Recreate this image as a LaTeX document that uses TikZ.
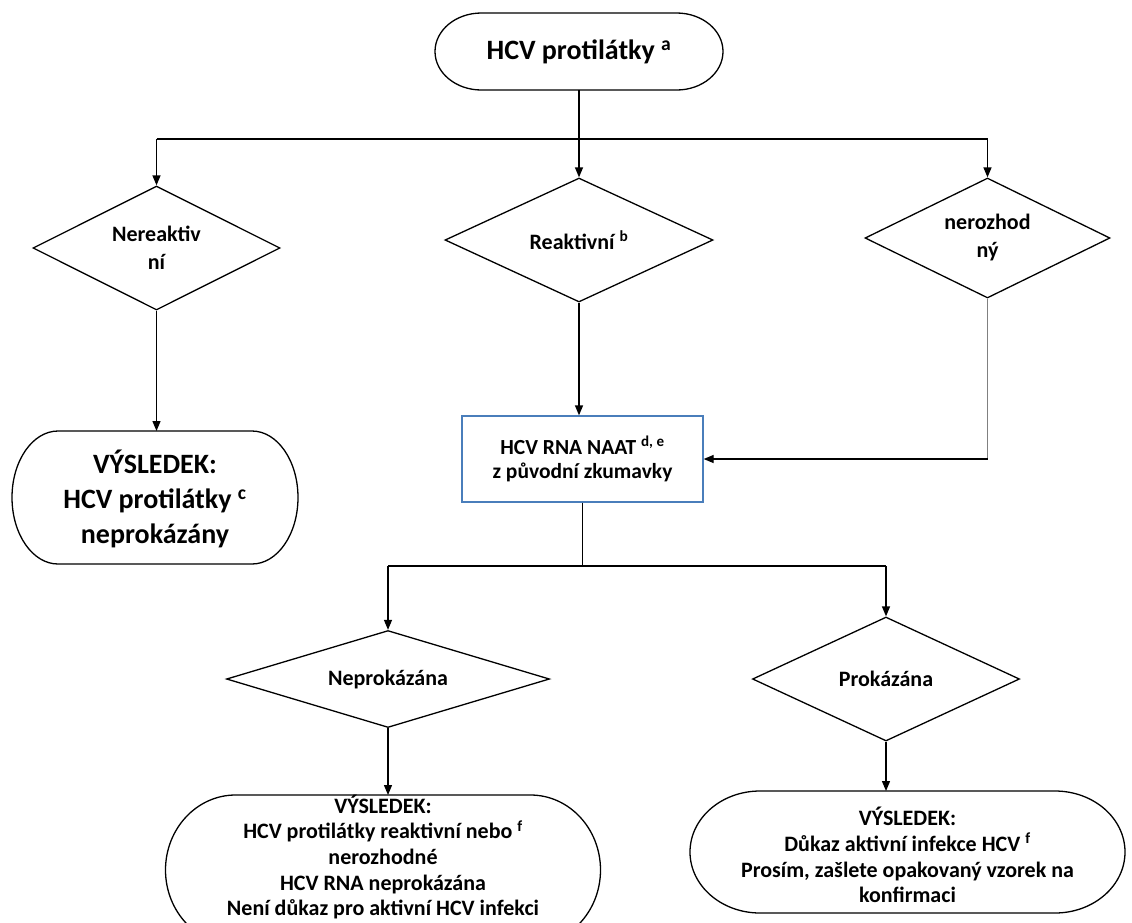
\documentclass[tikz,border=0pt]{standalone}
\usepackage{fontspec}
\setmainfont{Carlito}
\usepackage{tikz}
\usetikzlibrary{arrows.meta,positioning,calc,shapes.geometric}
\definecolor{boxBlue}{HTML}{4A7EBB}
\definecolor{wireGray}{HTML}{808080}

% terminator: name, x, y, width, height, text y, style, text
\newcommand\flowterm[8]{%
  \pgfmathsetmacro\tmRx{0.161*#4}%
  \pgfmathsetmacro\tmRy{0.5*#5}%
  \draw[termline] (#2-#4/2+\tmRx,#3-#5/2) -- (#2+#4/2-\tmRx,#3-#5/2)
    arc[start angle=90,end angle=-90,x radius=\tmRx pt,y radius=\tmRy pt]
    -- (#2-#4/2+\tmRx,#3+#5/2)
    arc[start angle=270,end angle=90,x radius=\tmRx pt,y radius=\tmRy pt] -- cycle;
  \coordinate (#1-top) at (#2,#3-#5/2);
  \coordinate (#1-bot) at (#2,#3+#5/2);
  \node[#7] (#1) at (#2,#6) {#8};
}

\begin{document}
\begin{tikzpicture}[
x=1pt, y=-1pt,
every node/.style={font=\bfseries},
termline/.style={line width=1.3pt},
termTop/.style={align=center, inner sep=0pt, font=\fontsize{28}{32}\selectfont\bfseries},
termBig/.style={align=center, inner sep=0pt, font=\fontsize{28}{35}\selectfont\bfseries},
termSmall/.style={align=center, inner sep=0pt, font=\fontsize{22}{25.7}\selectfont\bfseries},
decision/.style={diamond, aspect=2, draw, line width=1.3pt, inner sep=0pt, align=center, font=\fontsize{22}{28}\selectfont\bfseries},
testbox/.style={draw=boxBlue, line width=1.3pt, minimum width=241pt, minimum height=86pt, align=center, font=\fontsize{21.5}{24}\selectfont\bfseries},
wire/.style={line width=1.3pt},
busline/.style={line width=2.6pt},
arr/.style={-{Triangle[length=10pt,width=8pt]}, line width=1.3pt}
]
\useasboundingbox (0,0) rectangle (1132,922);
\clip (0,0) rectangle (1132,922);

% Antibody screening
\flowterm{Tab}{579}{51.5}{288}{77}{51.5}{termTop}{HCV protilátky \textsuperscript{a}}

% First decision row
\node[decision, minimum width=247pt, minimum height=124pt] (Dnereak) at (156.5,248) {Nereaktiv\\ní};
\node[decision, minimum width=268pt, minimum height=124pt] (Dreak) at (579,240) {Reaktivní \textsuperscript{b}};
\node[decision, minimum width=245pt, minimum height=120pt] (Dnerozhod) at (987.5,238) {nerozhod\\ný};

\coordinate (busA) at (579,139);
\draw[wire] (Tab-bot) -- (busA);
\draw[busline] (busA -| Dnereak) -- (busA -| Dnerozhod);
\draw[arr] (busA -| Dnereak) -- (Dnereak.north);
\draw[arr] (busA) -- (Dreak.north);
\draw[arr] (busA -| Dnerozhod) -- (Dnerozhod.north);

% Nonreactive result
\flowterm{Tneg}{155}{497.5}{286}{133}{499}{termBig}{VÝSLEDEK:\\HCV protilátky \textsuperscript{c}\\neprokázány}
\draw[arr] (Dnereak.south) -- (Dnereak.south |- Tneg-top);

% RNA test
\node[testbox] (NAAT) at (582.5,459) {HCV RNA NAAT \textsuperscript{d, e}\\z původní zkumavky};
\draw[arr] (Dreak.south) -- (Dreak.south |- NAAT.north);
\coordinate (kink) at (Dnerozhod.south |- NAAT.east);
\draw[wire, draw=wireGray] (Dnerozhod.south) -- (kink);
\draw[arr] (kink) -- (NAAT.east);

% Second decision row
\node[decision, minimum width=323pt, minimum height=97pt] (Dneg) at (388,679) {Neprokázána};
\node[decision, minimum width=267pt, minimum height=124pt] (Dpos) at (886,679) {Prokázána};

\coordinate (busB) at (583,566);
\draw[wire] (NAAT.south) -- (NAAT.south |- busB);
\draw[busline] (busB -| Dneg) -- (busB -| Dpos);
\draw[arr] (busB -| Dneg) -- (Dneg.north);
\draw[arr] (busB -| Dpos) -- (Dpos.north);

% Final results
\flowterm{Tnone}{383}{870}{435}{150}{857}{termSmall}{VÝSLEDEK:\\HCV protilátky reaktivní nebo \textsuperscript{f}\\nerozhodné\\HCV RNA neprokázána\\Není důkaz pro aktivní HCV infekci}
\flowterm{Tact}{907.5}{852}{435}{122}{855}{termSmall}{VÝSLEDEK:\\Důkaz aktivní infekce HCV \textsuperscript{f}\\Prosím, zašlete opakovaný vzorek na\\konfirmaci}
\draw[arr] (Dneg.south) -- (Dneg.south |- Tnone-top);
\draw[arr] (Dpos.south) -- (Dpos.south |- Tact-top);
\end{tikzpicture}
\end{document}
